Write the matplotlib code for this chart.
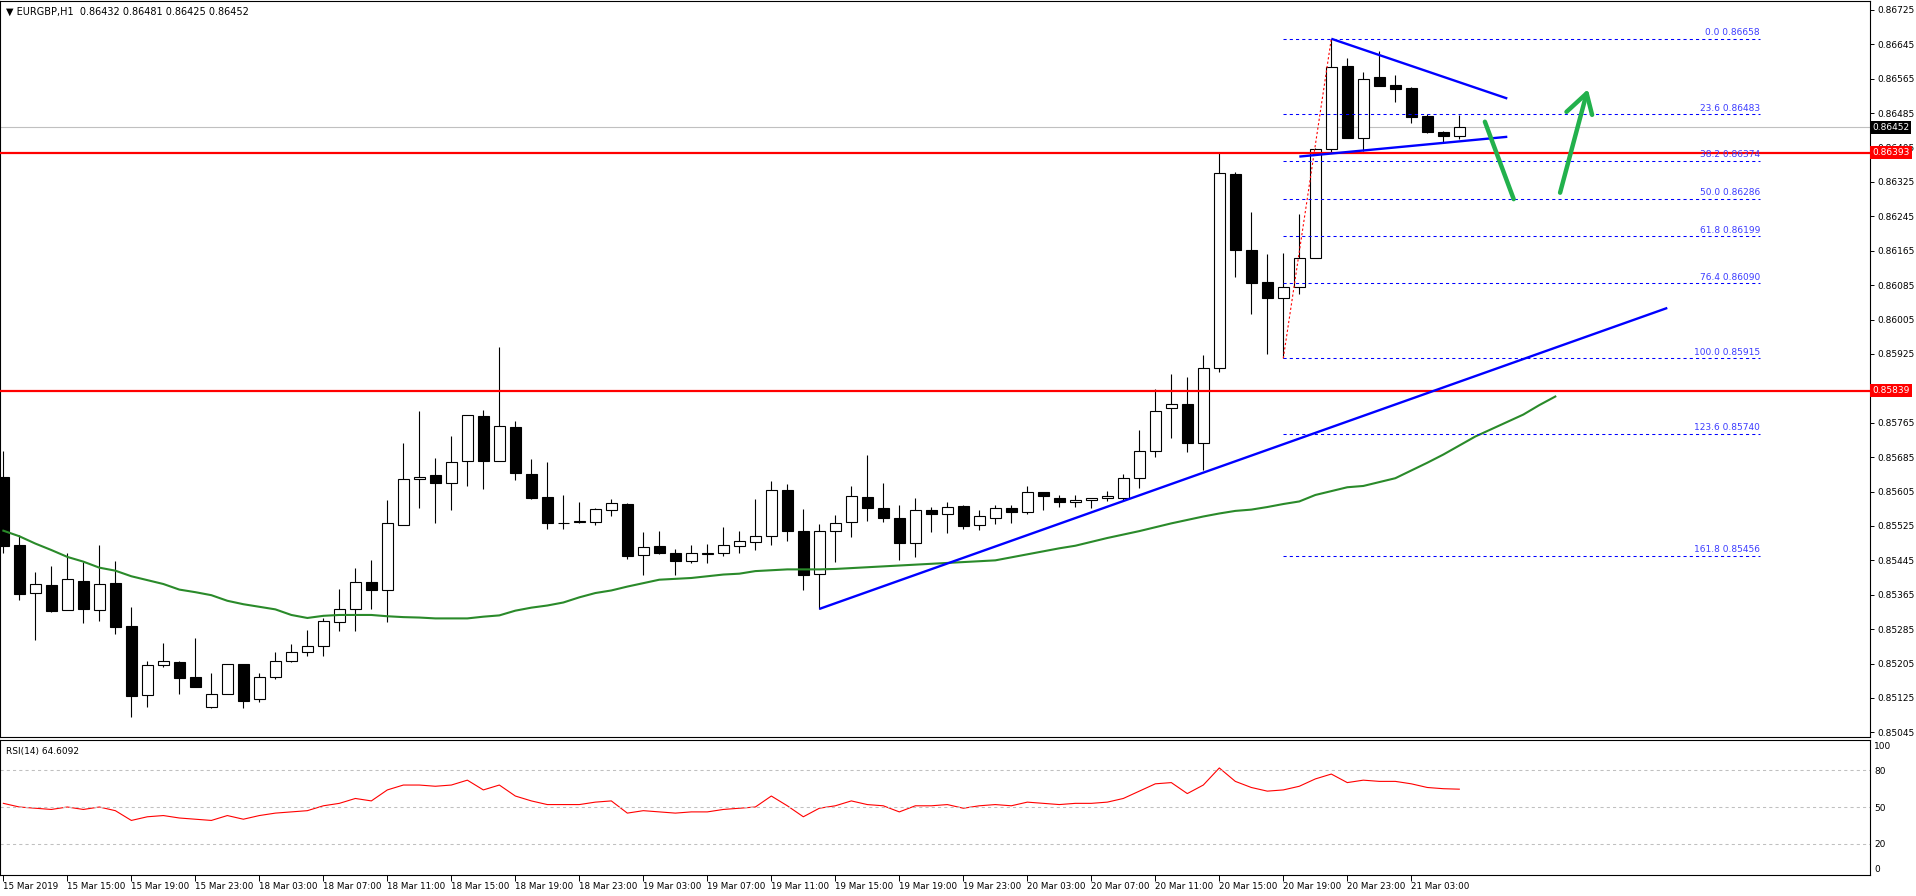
import numpy as np
import matplotlib
matplotlib.use("Agg")
import matplotlib.pyplot as plt
from matplotlib.transforms import blended_transform_factory

plt.rcParams['font.family'] = 'DejaVu Sans'

# EURGBP H1 candles, 15 Mar 11:00 .. 21 Mar 06:00
opens = [0.85638, 0.85480, 0.85370, 0.85387, 0.85329, 0.85398, 0.85329, 0.85392, 0.85292, 0.85131,
         0.85201, 0.85208, 0.85173, 0.85105, 0.85135, 0.85204, 0.85122, 0.85173, 0.85210, 0.85233,
         0.85245, 0.85301, 0.85331, 0.85394, 0.85377, 0.85528, 0.85635, 0.85643, 0.85626, 0.85675,
         0.85780, 0.85675, 0.85755, 0.85645, 0.85592, 0.85531, 0.85534, 0.85535, 0.85562, 0.85576,
         0.85457, 0.85478, 0.85462, 0.85443, 0.85460, 0.85462, 0.85478, 0.85487, 0.85501, 0.85608,
         0.85513, 0.85413, 0.85513, 0.85534, 0.85592, 0.85566, 0.85543, 0.85485, 0.85561, 0.85552,
         0.85571, 0.85527, 0.85543, 0.85566, 0.85557, 0.85603, 0.85591, 0.85580, 0.85585, 0.85589,
         0.85591, 0.85636, 0.85699, 0.85799, 0.85808, 0.85717, 0.85892, 0.86344, 0.86167, 0.86093,
         0.86054, 0.86080, 0.86148, 0.86401, 0.86595, 0.86428, 0.86569, 0.86551, 0.86544, 0.86479,
         0.86442, 0.86432]
highs = [0.85699, 0.85504, 0.85417, 0.85432, 0.85461, 0.85442, 0.85480, 0.85443, 0.85336, 0.85211,
         0.85253, 0.85211, 0.85264, 0.85184, 0.85205, 0.85204, 0.85182, 0.85232, 0.85250, 0.85283,
         0.85312, 0.85378, 0.85428, 0.85445, 0.85585, 0.85718, 0.85793, 0.85683, 0.85735, 0.85783,
         0.85795, 0.85941, 0.85769, 0.85681, 0.85674, 0.85597, 0.85580, 0.85567, 0.85587, 0.85578,
         0.85511, 0.85514, 0.85471, 0.85481, 0.85483, 0.85523, 0.85514, 0.85588, 0.85630, 0.85623,
         0.85565, 0.85530, 0.85551, 0.85618, 0.85690, 0.85625, 0.85574, 0.85589, 0.85568, 0.85580,
         0.85574, 0.85561, 0.85574, 0.85574, 0.85618, 0.85603, 0.85597, 0.85596, 0.85589, 0.85606,
         0.85646, 0.85748, 0.85843, 0.85878, 0.85871, 0.85923, 0.86392, 0.86348, 0.86254, 0.86158,
         0.86160, 0.86251, 0.86403, 0.86658, 0.86613, 0.86581, 0.86630, 0.86574, 0.86545, 0.86482,
         0.86444, 0.86481]
lows = [0.85463, 0.85353, 0.85260, 0.85325, 0.85329, 0.85300, 0.85304, 0.85274, 0.85081, 0.85104,
        0.85197, 0.85135, 0.85151, 0.85102, 0.85135, 0.85102, 0.85116, 0.85168, 0.85208, 0.85223,
        0.85223, 0.85281, 0.85281, 0.85332, 0.85302, 0.85528, 0.85567, 0.85531, 0.85561, 0.85617,
        0.85612, 0.85675, 0.85631, 0.85587, 0.85517, 0.85517, 0.85531, 0.85528, 0.85547, 0.85449,
        0.85410, 0.85459, 0.85412, 0.85438, 0.85438, 0.85456, 0.85461, 0.85468, 0.85480, 0.85491,
        0.85375, 0.85332, 0.85442, 0.85500, 0.85537, 0.85535, 0.85446, 0.85452, 0.85512, 0.85508,
        0.85519, 0.85516, 0.85529, 0.85533, 0.85552, 0.85561, 0.85570, 0.85568, 0.85566, 0.85582,
        0.85586, 0.85613, 0.85686, 0.85730, 0.85698, 0.85654, 0.85882, 0.86105, 0.86018, 0.85925,
        0.85915, 0.86065, 0.86148, 0.86394, 0.86428, 0.86398, 0.86549, 0.86510, 0.86461, 0.86438,
        0.86418, 0.86425]
closes = [0.85479, 0.85367, 0.85389, 0.85328, 0.85401, 0.85332, 0.85391, 0.85291, 0.85130, 0.85201,
          0.85210, 0.85172, 0.85151, 0.85135, 0.85205, 0.85118, 0.85173, 0.85212, 0.85231, 0.85245,
          0.85303, 0.85331, 0.85394, 0.85377, 0.85531, 0.85635, 0.85640, 0.85626, 0.85673, 0.85783,
          0.85675, 0.85757, 0.85647, 0.85591, 0.85531, 0.85532, 0.85536, 0.85564, 0.85578, 0.85454,
          0.85477, 0.85461, 0.85443, 0.85462, 0.85462, 0.85480, 0.85490, 0.85501, 0.85608, 0.85513,
          0.85412, 0.85513, 0.85531, 0.85594, 0.85566, 0.85543, 0.85486, 0.85561, 0.85552, 0.85570,
          0.85526, 0.85548, 0.85566, 0.85557, 0.85603, 0.85594, 0.85580, 0.85585, 0.85589, 0.85594,
          0.85636, 0.85699, 0.85792, 0.85808, 0.85717, 0.85892, 0.86345, 0.86166, 0.86091, 0.86054,
          0.86080, 0.86148, 0.86401, 0.86592, 0.86428, 0.86564, 0.86549, 0.86542, 0.86477, 0.86440,
          0.86431, 0.86452]

# shifted moving average (green), one value per bar slot, runs past the last candle
ma_vals = [0.85514, 0.85501, 0.85484, 0.85469, 0.85453, 0.85442, 0.85428, 0.85421, 0.85408, 0.85399,
           0.85390, 0.85377, 0.85371, 0.85364, 0.85351, 0.85343, 0.85337, 0.85331, 0.85318, 0.85311,
           0.85316, 0.85318, 0.85318, 0.85318, 0.85315, 0.85313, 0.85312, 0.85310, 0.85310, 0.85310,
           0.85314, 0.85317, 0.85328, 0.85335, 0.85340, 0.85347, 0.85359, 0.85369, 0.85375, 0.85384,
           0.85392, 0.85400, 0.85402, 0.85404, 0.85408, 0.85412, 0.85414, 0.85420, 0.85422, 0.85424,
           0.85424, 0.85424, 0.85425, 0.85427, 0.85429, 0.85431, 0.85433, 0.85435, 0.85437, 0.85439,
           0.85441, 0.85443, 0.85445, 0.85452, 0.85459, 0.85466, 0.85473, 0.85479, 0.85488, 0.85497,
           0.85505, 0.85513, 0.85522, 0.85531, 0.85539, 0.85547, 0.85554, 0.85560, 0.85563, 0.85569,
           0.85576, 0.85582, 0.85597, 0.85606, 0.85615, 0.85618, 0.85627, 0.85636, 0.85654, 0.85672,
           0.85691, 0.85712, 0.85733, 0.85750, 0.85767, 0.85784, 0.85806, 0.85826]

rsi_vals = [53, 50, 49, 48, 50, 48, 50, 47, 39, 42, 43, 41, 40, 39, 43, 40, 43, 45, 46, 47,
            51, 53, 57, 55, 64, 68, 68, 67, 68, 72, 64, 68, 59, 55, 52, 52, 52, 54, 55, 45,
            47, 46, 45, 46, 46, 48, 49, 50, 59, 51, 42, 49, 51, 55, 52, 51, 46, 51, 51, 52,
            49, 51, 52, 51, 54, 53, 52, 53, 53, 54, 57, 63, 69, 70, 61, 68, 82, 71, 66, 63,
            64, 67, 73, 77, 70, 72, 71, 71, 69, 66, 65, 64.6092]

time_ticks = [0, 4, 8, 12, 16, 20, 24, 28, 32, 36, 40, 44, 48, 52, 56, 60, 64, 68, 72, 76, 80, 84, 88]
time_labels = ['15 Mar 2019', '15 Mar 15:00', '15 Mar 19:00', '15 Mar 23:00', '18 Mar 03:00',
               '18 Mar 07:00', '18 Mar 11:00', '18 Mar 15:00', '18 Mar 19:00', '18 Mar 23:00',
               '19 Mar 03:00', '19 Mar 07:00', '19 Mar 11:00', '19 Mar 15:00', '19 Mar 19:00',
               '19 Mar 23:00', '20 Mar 03:00', '20 Mar 07:00', '20 Mar 11:00', '20 Mar 15:00',
               '20 Mar 19:00', '20 Mar 23:00', '21 Mar 03:00']

price_ticks = [0.86725, 0.86645, 0.86565, 0.86485, 0.86405, 0.86325, 0.86245, 0.86165, 0.86085,
               0.86005, 0.85925, 0.85845, 0.85765, 0.85685, 0.85605, 0.85525, 0.85445, 0.85365,
               0.85285, 0.85205, 0.85125, 0.85045]
hidden_ticks = [0.85845]   # sits fully under the red price box

fib_pct = ['0.0', '23.6', '38.2', '50.0', '61.8', '76.4', '100.0', '123.6', '161.8']
fib_price = [0.86658, 0.86483, 0.86374, 0.86286, 0.86199, 0.86090, 0.85915, 0.85740, 0.85456]

resist_levels = [0.86393, 0.85839]
last_price = 0.86452

# trend lines as (bar, price) pairs
support_line = ([51, 104], [0.85332, 0.86032])
tri_upper = ([83, 94], [0.86658, 0.86519])
tri_lower = ([81, 94], [0.86384, 0.86430])
fib_base = ([80, 83], [0.85915, 0.86658])
arrow_down = ([92.6, 94.4], [0.86465, 0.86285])
arrow_up = ([97.3, 98.96], [0.86300, 0.86531])
arrow_head = ([97.7, 98.96, 99.3], [0.86488, 0.86531, 0.86481])

W, H = 1916, 896
fig = plt.figure(figsize=(W / 100, H / 100), dpi=100)
ax = fig.add_axes([0, 1 - 737 / H, 1870 / W, 736 / H])
ax2 = fig.add_axes([0, 1 - 875 / H, 1870 / W, 135 / H])

x = np.arange(len(opens))
o = np.array(opens); c = np.array(closes)
up = c >= o
body_lo = np.minimum(o, c)
body_h = np.maximum(np.abs(c - o), 0.000012)

ax.vlines(x, lows, highs, color='black', lw=0.8, zorder=2)
ax.bar(x[up], body_h[up], bottom=body_lo[up], width=0.66, facecolor='white',
       edgecolor='black', lw=0.8, zorder=3)
ax.bar(x[~up], body_h[~up], bottom=body_lo[~up], width=0.66, facecolor='black',
       edgecolor='black', lw=0.8, zorder=3)

ax.plot(np.arange(len(ma_vals)), ma_vals, color='#2a8a2a', lw=1.5, zorder=4)

ax.axhline(last_price, color='#c0c0c0', lw=0.8, zorder=1)
for lv in resist_levels:
    ax.axhline(lv, color='#ff0000', lw=1.6, zorder=5)

for pct, pr in zip(fib_pct, fib_price):
    ax.hlines(pr, 80, 109.8, color='#0000ff', lw=0.75, linestyles=(0, (3, 3)), zorder=4)
    ax.annotate(pct + ' ' + '%.5f' % pr, (109.8, pr), xytext=(0, 1), textcoords='offset points',
                ha='right', va='bottom', fontsize=6.5, color='#3c3cff', zorder=6)

ax.plot(*fib_base, color='#ff0000', lw=0.8, ls=(0, (2, 2)), zorder=6)
for ln in (support_line, tri_upper, tri_lower):
    ax.plot(*ln, color='#0000ff', lw=1.7, zorder=6, solid_capstyle='butt')
for ln in (arrow_down, arrow_up, arrow_head):
    ax.plot(*ln, color='#22b14c', lw=3.2, zorder=6, solid_capstyle='round')

ax.set_xlim(-0.21, 116.67)
ax.set_ylim(0.850342, 0.867458)
ax.set_xticks([])
ax.yaxis.tick_right()
ax.set_yticks(price_ticks)
ax.set_yticklabels(['' if p in hidden_ticks else '%.5f' % p for p in price_ticks])
ax.tick_params(axis='y', direction='out', length=3, width=0.7, labelsize=6.5, pad=2)
for sp in ax.spines.values():
    sp.set_linewidth(0.8)

tr = blended_transform_factory(ax.transAxes, ax.transData)
ax.text(1.0012, last_price, '%.5f' % last_price, transform=tr, color='white', fontsize=6.5,
        va='center', ha='left', zorder=10, clip_on=False,
        bbox=dict(facecolor='black', edgecolor='none', pad=1.4))
for lv in resist_levels:
    ax.text(1.0012, lv, '%.5f' % lv, transform=tr, color='white', fontsize=6.5,
            va='center', ha='left', zorder=10, clip_on=False,
            bbox=dict(facecolor='#ff0000', edgecolor='none', pad=1.4))

ax.text(0.003, 0.992, '\u25bc EURGBP,H1  0.86432 0.86481 0.86425 0.86452', transform=ax.transAxes,
        fontsize=7, va='top', ha='left', color='black')

# RSI panel
ax2.plot(np.arange(len(rsi_vals)), rsi_vals, color='#ff0000', lw=0.8)
for lv in (80, 50, 20):
    ax2.axhline(lv, color='#c0c0c0', lw=0.75, ls=(0, (3, 3)))
ax2.set_xlim(-0.21, 116.67)
ax2.set_ylim(-5.7, 104.9)
ax2.yaxis.tick_right()
ax2.set_yticks([0, 20, 50, 80, 100])
ax2.set_yticklabels(['0', '20', '50', '80', '100'])
ax2.tick_params(axis='y', length=0, labelsize=6.5, pad=3)
ax2.set_xticks(time_ticks)
ax2.set_xticklabels(time_labels, ha='left')
ax2.tick_params(axis='x', direction='out', length=4, width=0.7, labelsize=6.3, pad=1)
for sp in ax2.spines.values():
    sp.set_linewidth(0.8)
ax2.text(0.003, 0.95, 'RSI(14) 64.6092', transform=ax2.transAxes, fontsize=6.5,
         va='top', ha='left', color='black')

fig.savefig('out.png', dpi=100, facecolor='white')
